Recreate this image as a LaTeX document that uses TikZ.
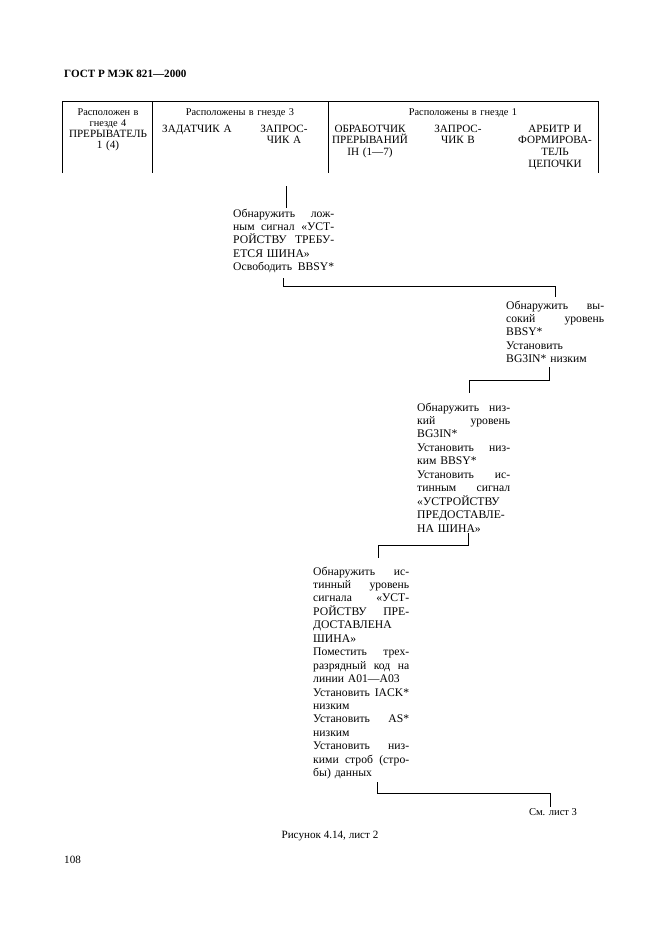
\documentclass[tikz,border=0pt]{standalone}
\usepackage{fontspec}
\setmainfont{Liberation Serif}
\newlength{\bw}
\newcommand{\jst}[1]{\makebox[\bw][s]{\spaceskip=.3333em plus 10em minus .1em\relax #1}}
\begin{document}
\begin{tikzpicture}[x=0.9pt,y=-0.9pt,
  ln/.style={line width=0.8pt},
  blk/.style={anchor=base west,inner sep=0pt,align=left,text width=#1,
    execute at begin node={\setlength{\bw}{#1}},
    font=\fontsize{10.5}{12.1}\selectfont},
  hsm/.style={anchor=base,inner sep=0pt,align=center,text width=110pt,font=\fontsize{9.3}{10}\selectfont},
  hcap/.style={anchor=base,inner sep=0pt,align=center,text width=85pt,font=\fontsize{10}{10.6}\selectfont},
  plain/.style={inner sep=0pt,font=\fontsize{10}{12}\selectfont}]
\useasboundingbox (0,0) rectangle (661,936);

% title
\node[plain,anchor=base west,font=\fontsize{10}{12}\selectfont\bfseries] (title) at (64,77) {ГОСТ Р МЭК 821—2000};

% table frame
\draw[ln] (62,173) -- (62,101) -- (598,101) -- (598,173);
\draw[ln] (152,101) -- (152,173);
\draw[ln] (328,101) -- (328,173);

% header texts
\node[hsm] (h4) at (108,115) {Расположен в\\гнезде 4};
\node[hcap] (intr) at (108,137) {ПРЕРЫВАТЕЛЬ\\1 (4)};
\node[hsm] (h3) at (240,115) {Расположены в гнезде 3};
\node[hcap,anchor=base west,align=left] (zad) at (162,132) {ЗАДАТЧИК А};
\node[hcap] (zapa) at (284,132) {ЗАПРОС-\\ЧИК А};
\node[hsm] (h1) at (463,115) {Расположены в гнезде 1};
\node[hcap] (obr) at (370,132) {ОБРАБОТЧИК\\ПРЕРЫВАНИЙ\\IH (1—7)};
\node[hcap] (zapb) at (458,132) {ЗАПРОС-\\ЧИК В};
\node[hcap] (arb) at (555,132) {АРБИТР И\\ФОРМИРОВА-\\ТЕЛЬ\\ЦЕПОЧКИ};

% blocks
\node[blk=90.9pt] (b1) at (233,217) {%
\jst{Обнаружить лож-}\\
\jst{ным сигнал «УСТ-}\\
\jst{РОЙСТВУ ТРЕБУ-}\\
ЕТСЯ ШИНА»\\
\jst{Освободить BBSY*}};

\node[blk=88.2pt] (b2) at (506,309) {%
\jst{Обнаружить вы-}\\
\jst{сокий уровень}\\
BBSY*\\
Установить\\
BG3IN* низким};

\node[blk=83.7pt] (b3) at (417,411) {%
\jst{Обнаружить низ-}\\
\jst{кий уровень}\\
BG3IN*\\
\jst{Установить низ-}\\
ким BBSY*\\
\jst{Установить ис-}\\
\jst{тинным сигнал}\\
«УСТРОЙСТВУ\\
ПРЕДОСТАВЛЕ-\\
НА ШИНА»};

\node[blk=86.4pt] (b4) at (313,575) {%
\jst{Обнаружить ис-}\\
\jst{тинный уровень}\\
\jst{сигнала «УСТ-}\\
\jst{РОЙСТВУ ПРЕ-}\\
ДОСТАВЛЕНА\\
ШИНА»\\
\jst{Поместить трех-}\\
\jst{разрядный код на}\\
линии A01—A03\\
\jst{Установить IACK*}\\
низким\\
\jst{Установить AS*}\\
низким\\
\jst{Установить низ-}\\
\jst{кими строб (стро-}\\
бы) данных};

\node[plain,anchor=base,font=\fontsize{9.5}{11}\selectfont] (sm) at (553,815) {См. лист 3};
\node[plain,anchor=base] (capt) at (330,838) {Рисунок 4.14, лист 2};
\node[plain,anchor=base west] (pg) at (64,863) {108};

% connector anchor points
\coordinate (s0) at (286,186);
\coordinate (b2o) at ([xshift=-5.4pt]b2.south);
\coordinate (b3i) at ([xshift=5pt]b3.north);
\coordinate (b3o) at ([xshift=4pt]b3.south);
\coordinate (b4i) at ([xshift=15.3pt]b4.north);
\coordinate (b4o) at ([xshift=14.4pt]b4.south);
\coordinate (smi) at ([xshift=-2pt]sm.north);

% connectors
\draw[ln] (s0) -- (s0 |- 0,208);
\draw[ln] (b1.south |- 0,278) -- (b1.south |- 0,286) -| (b2.north |- 0,297);
\draw[ln] (b2o |- 0,367) -- (b2o |- 0,380) -| (b3i |- 0,393);
\draw[ln] (b3o |- 0,533) -- (b3o |- 0,545) -| (b4i |- 0,558);
\draw[ln] (b4o |- 0,782) -- (b4o |- 0,793) -| (smi |- 0,807);
\end{tikzpicture}
\end{document}
